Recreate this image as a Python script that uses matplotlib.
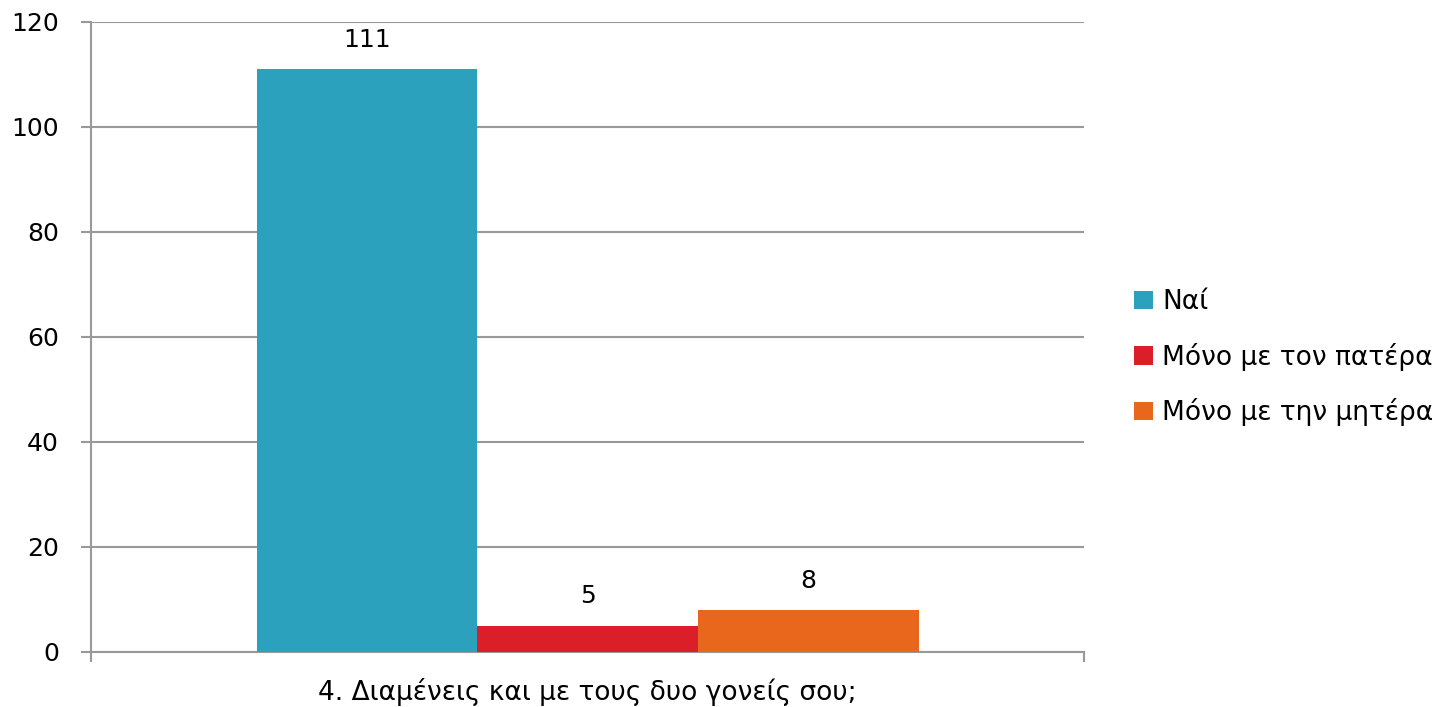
import numpy as np
import matplotlib.pyplot as plt
from matplotlib.patches import Patch

# Data
series = ["Ναί", "Μόνο με τον πατέρα", "Μόνο με την μητέρα"]
values = [111, 5, 8]
colors = ["#2CA1BE", "#DA1F28", "#E9661D"]
category = "4. Διαμένεις και με τους δυο γονείς σου;"

plt.rcParams['font.family'] = ['DejaVu Sans']

fig = plt.figure(figsize=(14.33, 7.07), dpi=100)
ax = fig.add_axes([0.0635, 0.0778, 0.693, 0.8911])

width = 0.2222
offsets = (np.arange(len(values)) - 1) * width
for i in range(len(values)):
    ax.bar(0.5 + offsets[i], values[i], width=width, color=colors[i], zorder=3)
    ax.text(0.5 + offsets[i], values[i] + 3.3, str(values[i]), ha="center", va="bottom",
            fontsize=18, color="black")

ax.set_xlim(0, 1)
ax.set_ylim(0, 120)
ax.set_yticks(np.arange(0, 121, 20))
ax.set_xticks([0, 1])
ax.set_xticklabels(["", ""])
ax.tick_params(axis="y", labelsize=18, length=7, width=1.5, color="#999999", pad=16)
ax.tick_params(axis="x", length=7, width=1.5, color="#999999")
ax.grid(axis="y", color="#999999", linewidth=1.5, zorder=0)
for s in ["top", "right"]:
    ax.spines[s].set_visible(False)
for s in ["left", "bottom"]:
    ax.spines[s].set_color("#999999")
    ax.spines[s].set_linewidth(1.5)
ax.set_xlabel(category, fontsize=19, labelpad=8)

handles = [Patch(facecolor=c, edgecolor="none") for c in colors]
fig.legend(handles, series, loc="center left", bbox_to_anchor=(0.775, 0.494),
           frameon=False, fontsize=19, handlelength=0.7, handleheight=0.7,
           handletextpad=0.35, labelspacing=1.05)

fig.savefig("out.png", dpi=100)
